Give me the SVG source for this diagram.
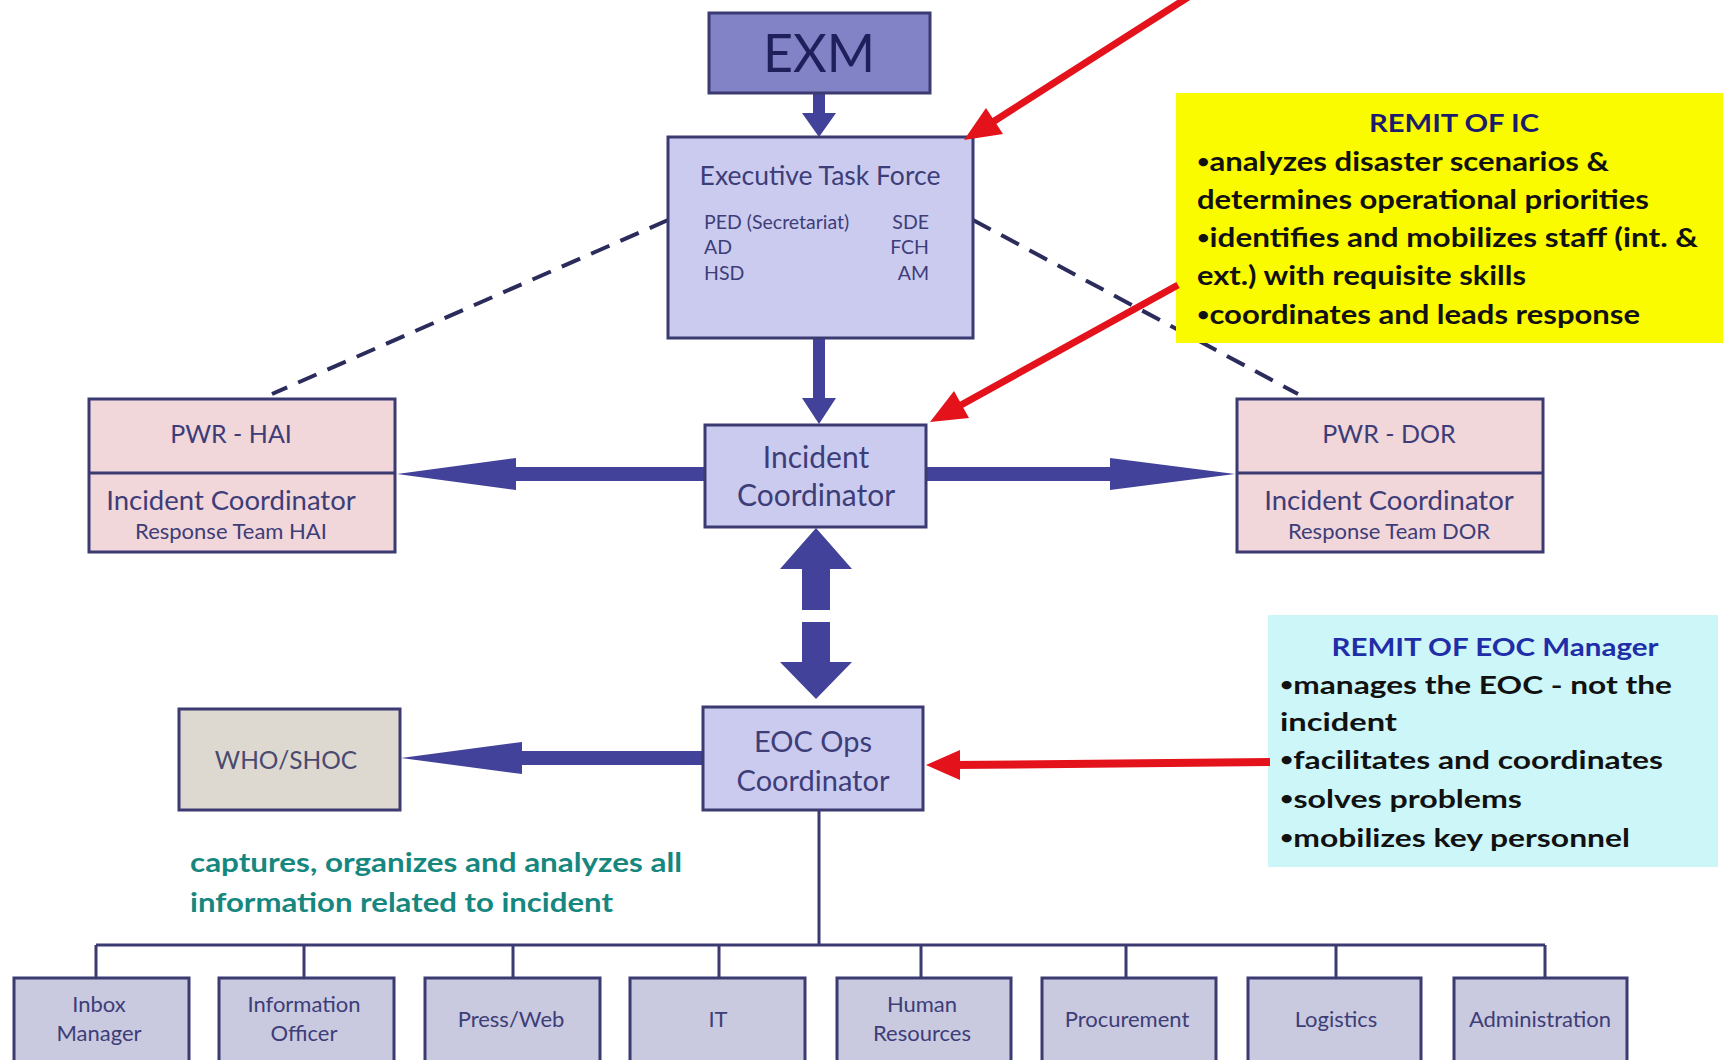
<svg xmlns="http://www.w3.org/2000/svg" width="1723" height="1060" viewBox="0 0 1723 1060">
<defs>
<style>
.box{stroke:#3b3b72;stroke-width:3}
.lav{fill:#cbcbf0}
.pink{fill:#f1d6da}
.grey{fill:#ddd9d1}
.sub{fill:#c9c9df}
.t{font-family:Lato,"Open Sans","Liberation Sans",sans-serif;fill:#3d3d78;text-anchor:middle}
.b{font-family:Lato,"Liberation Sans",sans-serif;font-weight:bold;fill:#111}
.bu{font-size:18px}
.blue{fill:#42429a}
.redl{stroke:#e3121b;stroke-width:7;fill:none}
.redh{fill:#e3121b}
.dash{stroke:#2b2b5c;stroke-width:4;stroke-dasharray:20 12;fill:none}
.tree{stroke:#3b3b72;stroke-width:3;fill:none}
</style>
</defs>
<rect width="1723" height="1060" fill="#ffffff"/>

<g id="connectors">
  <line class="dash" x1="668" y1="220" x2="272" y2="394"/>
  <line class="dash" x1="973" y1="220" x2="1298" y2="394"/>
  <!-- EXM -> ETF -->
  <polygon class="blue" points="813,93 825,93 825,113 836,113 819,137 802,113 813,113"/>
  <!-- ETF -> IC -->
  <polygon class="blue" points="813,338 825,338 825,398 836,398 819,424 802,398 813,398"/>
  <!-- IC -> PWR-HAI -->
  <polygon class="blue" points="705,467 516,467 516,458 397,474 516,490 516,481 705,481"/>
  <!-- IC -> PWR-DOR -->
  <polygon class="blue" points="927,467 1110,467 1110,458 1235,474 1110,490 1110,481 927,481"/>
  <!-- IC <-> EOC -->
  <polygon class="blue" points="816,528 852,569 830,569 830,610 802,610 802,569 780,569"/>
  <polygon class="blue" points="802,622 830,622 830,662 852,662 816,699 780,662 802,662"/>
  <!-- EOC -> WHO/SHOC -->
  <polygon class="blue" points="703,751 522,751 522,742 401,758 522,774 522,765 703,765"/>
  <!-- tree -->
  <path class="tree" d="M819,810 V945 M96,945 H1545 M96,945 V978 M304,945 V978 M513,945 V978 M719,945 V978 M921,945 V978 M1126,945 V978 M1336,945 V978 M1545,945 V978"/>
</g>

<g id="exm">
  <rect class="box" x="709" y="13" width="221" height="80" fill="#8282c6"/>
  <text class="t" x="819" y="72" font-size="52" style="fill:#1f1f5c">EXM</text>
</g>

<g id="etf">
  <rect class="box lav" x="668" y="137" width="305" height="201"/>
  <text class="t" x="820" y="185" font-size="26.5">Executive Task Force</text>
  <g class="t" font-size="19.5" style="text-anchor:start">
    <text x="704" y="229">PED (Secretariat)</text>
    <text x="704" y="254">AD</text>
    <text x="704" y="280">HSD</text>
  </g>
  <g class="t" font-size="19.5" style="text-anchor:end">
    <text x="929" y="229">SDE</text>
    <text x="929" y="254">FCH</text>
    <text x="929" y="280">AM</text>
  </g>
</g>

<g id="ic">
  <rect class="box lav" x="705" y="425" width="221" height="102"/>
  <text class="t" x="816" y="468" font-size="30">Incident</text>
  <text class="t" x="816" y="506" font-size="30">Coordinator</text>
</g>

<g id="pwr-hai">
  <rect class="box pink" x="89" y="399" width="306" height="153"/>
  <line class="box" x1="89" y1="473" x2="395" y2="473"/>
  <text class="t" x="231" y="443" font-size="25">PWR - HAI</text>
  <text class="t" x="231" y="510" font-size="27.5">Incident Coordinator</text>
  <text class="t" x="231" y="539" font-size="22">Response Team HAI</text>
</g>

<g id="pwr-dor">
  <rect class="box pink" x="1237" y="399" width="306" height="153"/>
  <line class="box" x1="1237" y1="473" x2="1543" y2="473"/>
  <text class="t" x="1389" y="443" font-size="25">PWR - DOR</text>
  <text class="t" x="1389" y="510" font-size="27.5">Incident Coordinator</text>
  <text class="t" x="1389" y="539" font-size="22">Response Team DOR</text>
</g>

<g id="eoc">
  <rect class="box lav" x="703" y="707" width="220" height="103"/>
  <text class="t" x="813" y="752" font-size="29">EOC Ops</text>
  <text class="t" x="813" y="791" font-size="29">Coordinator</text>
</g>

<g id="who">
  <rect class="box grey" x="179" y="709" width="221" height="101"/>
  <text class="t" x="286" y="769" font-size="24.5" style="fill:#4a4a70">WHO/SHOC</text>
</g>

<g id="note-eoc-info">
  <text class="b" x="190" y="872" font-size="26" style="fill:#16877e" textLength="492" lengthAdjust="spacingAndGlyphs">captures, organizes and analyzes all</text>
  <text class="b" x="190" y="912" font-size="26" style="fill:#16877e" textLength="423" lengthAdjust="spacingAndGlyphs">information related to incident</text>
</g>

<g id="remit-ic">
  <rect x="1176" y="93" width="547" height="250" fill="#fbfb00"/>
  <text class="b" x="1454" y="132" font-size="24" text-anchor="middle" style="fill:#1c1c6c" textLength="170" lengthAdjust="spacingAndGlyphs">REMIT OF IC</text>
  <text class="b" x="1197" y="171" font-size="26" textLength="412" lengthAdjust="spacingAndGlyphs"><tspan class="bu" dy="-3">•</tspan><tspan dy="3">analyzes disaster scenarios &amp;</tspan></text>
  <text class="b" x="1197" y="209" font-size="26" textLength="452" lengthAdjust="spacingAndGlyphs">determines operational priorities</text>
  <text class="b" x="1197" y="247" font-size="26" textLength="501" lengthAdjust="spacingAndGlyphs"><tspan class="bu" dy="-3">•</tspan><tspan dy="3">identifies and mobilizes staff (int. &amp;</tspan></text>
  <text class="b" x="1197" y="285" font-size="26" textLength="329" lengthAdjust="spacingAndGlyphs">ext.) with requisite skills</text>
  <text class="b" x="1197" y="324" font-size="26" textLength="443" lengthAdjust="spacingAndGlyphs"><tspan class="bu" dy="-3">•</tspan><tspan dy="3">coordinates and leads response</tspan></text>
</g>

<g id="remit-eoc">
  <rect x="1268" y="615" width="450" height="252" fill="#cdf6f9"/>
  <text class="b" x="1495" y="656" font-size="25" text-anchor="middle" style="fill:#1f2ea8" textLength="327" lengthAdjust="spacingAndGlyphs">REMIT OF EOC Manager</text>
  <text class="b" x="1280" y="694" font-size="25" textLength="392" lengthAdjust="spacingAndGlyphs"><tspan class="bu" dy="-3">•</tspan><tspan dy="3">manages the EOC - not the</tspan></text>
  <text class="b" x="1280" y="731" font-size="25" textLength="117" lengthAdjust="spacingAndGlyphs">incident</text>
  <text class="b" x="1280" y="769" font-size="25" textLength="383" lengthAdjust="spacingAndGlyphs"><tspan class="bu" dy="-3">•</tspan><tspan dy="3">facilitates and coordinates</tspan></text>
  <text class="b" x="1280" y="808" font-size="25" textLength="242" lengthAdjust="spacingAndGlyphs"><tspan class="bu" dy="-3">•</tspan><tspan dy="3">solves problems</tspan></text>
  <text class="b" x="1280" y="847" font-size="25" textLength="350" lengthAdjust="spacingAndGlyphs"><tspan class="bu" dy="-3">•</tspan><tspan dy="3">mobilizes key personnel</tspan></text>
</g>

<g id="red-arrows">
  <line class="redl" x1="1190" y1="-4" x2="985" y2="127"/>
  <polygon class="redh" points="964,140 986,108 1003,134"/>
  <line class="redl" x1="1178" y1="285" x2="952" y2="410"/>
  <polygon class="redh" points="930,422 954,391 969,418"/>
  <line class="redl" x1="1270" y1="762" x2="952" y2="765" style="stroke-width:8"/>
  <polygon class="redh" points="926,765 960,750 960,780"/>
</g>

<g id="sub-inbox"><rect class="box sub" x="14" y="978" width="175" height="95"/><text class="t" x="99" y="1012" font-size="22">Inbox</text><text class="t" x="99" y="1041" font-size="22">Manager</text></g>
<g id="sub-info"><rect class="box sub" x="219" y="978" width="175" height="95"/><text class="t" x="304" y="1012" font-size="22">Information</text><text class="t" x="304" y="1041" font-size="22">Officer</text></g>
<g id="sub-press"><rect class="box sub" x="425" y="978" width="175" height="95"/><text class="t" x="511" y="1027" font-size="22">Press/Web</text></g>
<g id="sub-it"><rect class="box sub" x="630" y="978" width="175" height="95"/><text class="t" x="718" y="1027" font-size="22">IT</text></g>
<g id="sub-hr"><rect class="box sub" x="837" y="978" width="174" height="95"/><text class="t" x="922" y="1012" font-size="22">Human</text><text class="t" x="922" y="1041" font-size="22">Resources</text></g>
<g id="sub-proc"><rect class="box sub" x="1042" y="978" width="174" height="95"/><text class="t" x="1127" y="1027" font-size="22">Procurement</text></g>
<g id="sub-log"><rect class="box sub" x="1248" y="978" width="173" height="95"/><text class="t" x="1336" y="1027" font-size="22">Logistics</text></g>
<g id="sub-admin"><rect class="box sub" x="1454" y="978" width="173" height="95"/><text class="t" x="1540" y="1027" font-size="22">Administration</text></g>
</svg>
